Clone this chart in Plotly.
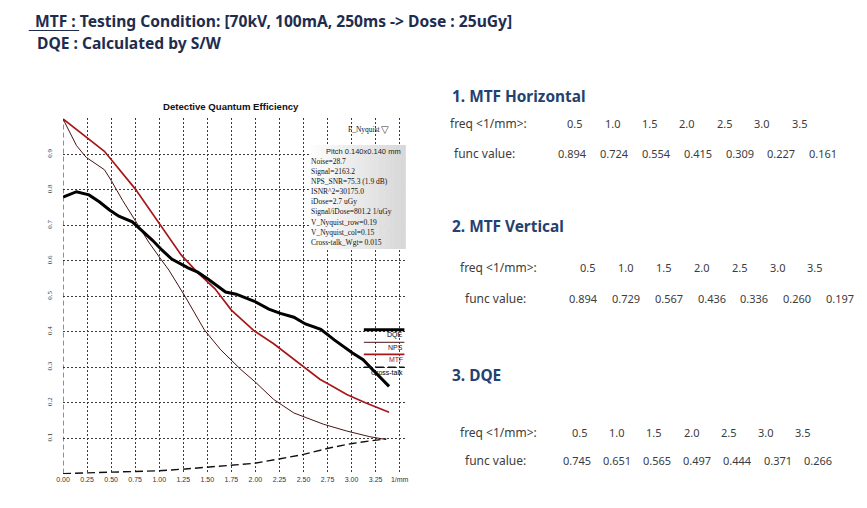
import plotly.graph_objects as go

W, H = 867, 508

# ---------------- data ----------------
dqe_freq = [0, 0.14, 0.27, 0.38, 0.48, 0.58, 0.72, 0.82, 0.93, 1.03, 1.13, 1.30, 1.40, 1.51,
            1.69, 1.80, 1.99, 2.14, 2.26, 2.40, 2.52, 2.68, 2.82, 3.01, 3.12, 3.22, 3.39]
dqe_val = [0.780, 0.795, 0.786, 0.766, 0.744, 0.726, 0.710, 0.686, 0.658, 0.630, 0.605, 0.580,
           0.568, 0.548, 0.512, 0.506, 0.486, 0.464, 0.452, 0.441, 0.422, 0.407, 0.377, 0.340,
           0.321, 0.293, 0.246]

nps_freq = [0, 0.14, 0.24, 0.43, 0.50, 0.62, 0.75, 0.89, 1.00, 1.10, 1.27, 1.47, 1.64, 1.85,
            2.00, 2.19, 2.40, 2.71, 2.95, 3.19, 3.36]
nps_val = [1.0, 0.925, 0.892, 0.857, 0.827, 0.770, 0.714, 0.653, 0.611, 0.574, 0.499, 0.405,
           0.349, 0.293, 0.258, 0.209, 0.171, 0.139, 0.120, 0.104, 0.096]

mtf_freq = [0, 0.43, 0.75, 1.00, 1.23, 1.40, 1.58, 1.75, 1.99, 2.19, 2.35, 2.50, 2.67, 2.81,
            2.95, 3.15, 3.39]
mtf_val = [1.0, 0.909, 0.803, 0.705, 0.616, 0.567, 0.521, 0.461, 0.402, 0.366, 0.333, 0.300,
           0.266, 0.245, 0.223, 0.199, 0.173]

xtalk_freq = [0, 0.50, 1.00, 1.27, 1.47, 1.68, 1.99, 2.26, 2.50, 2.78, 3.01, 3.19, 3.36]
xtalk_val = [0.0, 0.004, 0.008, 0.013, 0.017, 0.022, 0.029, 0.042, 0.054, 0.073, 0.085, 0.092, 0.098]

x_tick_vals = [0, 0.25, 0.5, 0.75, 1.0, 1.25, 1.5, 1.75, 2.0, 2.25, 2.5, 2.75, 3.0, 3.25, 3.5]
x_tick_text = ["0.00", "0.25", "0.50", "0.75", "1.00", "1.25", "1.50", "1.75", "2.00",
               "2.25", "2.50", "2.75", "3.00", "3.25", "1/mm"]
y_tick_vals = [0.1, 0.2, 0.3, 0.4, 0.5, 0.6, 0.7, 0.8, 0.9]
y_tick_text = ["0.1", "0.2", "0.3", "0.4", "0.5", "0.6", "0.7", "0.8", "0.9"]

legend_names = ["DQE", "NPS", "MTF", "Cross-talk"]

info_title = "Pitch 0.140x0.140 mm"
info_lines = ["Noise=28.7", "Signal=2163.2", "NPS_SNR=75.3 (1.9 dB)", "ISNR^2=30175.0",
              "iDose=2.7 uGy", "Signal/iDose=801.2 1/uGy", "V_Nyquist_row=0.19",
              "V_Nyquist_col=0.15", "Cross-talk_Wgt= 0.015"]

table_freq = ["0.5", "1.0", "1.5", "2.0", "2.5", "3.0", "3.5"]
mtf_h_values = ["0.894", "0.724", "0.554", "0.415", "0.309", "0.227", "0.161"]
mtf_v_values = ["0.894", "0.729", "0.567", "0.436", "0.336", "0.260", "0.197"]
dqe_values = ["0.745", "0.651", "0.565", "0.497", "0.444", "0.371", "0.266"]

# ---------------- colours ----------------
C_DQE = "#000000"
C_NPS = "#4a1414"
C_MTF = "#a8181a"
C_XT = "#111111"

# ---------------- layout geometry (pixels) ----------------
PL, PR, PT, PB = 56.7, 403.0, 118.3, 474.3
XPU = 97.3  # pixels per 1/mm


def fx(p):
    return p / W


def fy(p):
    return 1 - p / H


fig = go.Figure()

fig.add_trace(go.Scatter(x=xtalk_freq, y=xtalk_val, mode="lines", name=legend_names[3],
                         line=dict(color=C_XT, width=1.4, dash="8px,4px"), hoverinfo="skip"))
fig.add_trace(go.Scatter(x=nps_freq, y=nps_val, mode="lines", name=legend_names[1],
                         line=dict(color=C_NPS, width=1), hoverinfo="skip"))
fig.add_trace(go.Scatter(x=mtf_freq, y=mtf_val, mode="lines", name=legend_names[2],
                         line=dict(color=C_MTF, width=1.7), hoverinfo="skip"))
fig.add_trace(go.Scatter(x=dqe_freq, y=dqe_val, mode="lines", name=legend_names[0],
                         line=dict(color=C_DQE, width=3), hoverinfo="skip"))

shapes = []
annotations = []

# left axis: dashed
shapes.append(dict(type="line", xref="x", yref="y", x0=0, x1=0, y0=0, y1=1,
                   line=dict(color="#222", width=1, dash="5px,3px"), layer="above"))

# info box with horizontal gradient
bx0, bx1, by0, by1 = 307, 403, 145, 249
n = 18
for i in range(n):
    t = i / (n - 1)
    g = int(round(252 - t * 36))
    shapes.append(dict(type="rect", xref="paper", yref="paper",
                       x0=fx(bx0 + (bx1 - bx0) * i / n), x1=fx(bx0 + (bx1 - bx0) * (i + 1) / n + 0.5),
                       y0=fy(by1), y1=fy(by0), line=dict(width=0),
                       fillcolor=f"rgb({g},{g},{g})", layer="above"))


def ann(text, x, y, size, color="#000", xanchor="left", family="Liberation Sans",
        weight="normal", yanchor="middle"):
    annotations.append(dict(text=text, x=fx(x), y=fy(y), xref="paper", yref="paper",
                            xanchor=xanchor, yanchor=yanchor, showarrow=False,
                            font=dict(size=size, color=color, family=family, weight=weight),
                            borderpad=0, borderwidth=0))


# info box text
ann(info_title, 361, 151.5, 7.5, "#222", "center", "Liberation Sans")
for i, s in enumerate(info_lines):
    ann(s, 307.5, 161.5 + i * 10.1, 7.5, "#111", "left", "Liberation Serif")

ann("F_Nyquist", 378, 129.5, 7.5, "#111", "right", "Liberation Serif")
ann("\u25BD", 378, 129, 10, "#333", "left", "DejaVu Sans")

# legend keys (lines) and labels
leg_y = [329.7, 342.3, 354.3, 367.3]
leg_style = [dict(color=C_DQE, width=3), dict(color=C_NPS, width=1),
             dict(color=C_MTF, width=1.7), dict(color=C_XT, width=1.4, dash="8px,4px")]
leg_col = ["#000", "#3a1010", C_MTF, "#000"]
for name, yy, st, col in zip(legend_names, leg_y, leg_style, leg_col):
    shapes.append(dict(type="line", xref="paper", yref="paper", x0=fx(361), x1=fx(402),
                       y0=fy(yy), y1=fy(yy), line=st, layer="above"))
    ann(name, 401, yy + 5.6, 7, col, "right", "Liberation Sans")

# chart title
ann("Detective Quantum Efficiency", 227, 107, 9.6, "#111", "center", "Liberation Sans", "bold")

# header
HDR = "#1e2d4f"
ann("MTF : Testing Condition: [70kV, 100mA, 250ms -> Dose : 25uGy]", 28, 20.5, 15.6, HDR,
    "left", "Noto Sans", "bold")
ann("DQE : Calculated by S/W", 30, 43, 15.6, HDR, "left", "Noto Sans", "bold")
shapes.append(dict(type="line", xref="paper", yref="paper", x0=fx(22), x1=fx(73),
                   y0=fy(30.5), y1=fy(30.5), line=dict(color=HDR, width=1.2)))

# right side tables
SEC = "#24416f"
TXT = "#3c3c3c"
sections = [
    dict(title="1. MTF Horizontal", ty=96.7, fx0=448, fy0=123.3, vx0=452, vy0=153,
         fc0=575, fstep=37.8, vc0=572, vstep=42.3, vals=mtf_h_values),
    dict(title="2. MTF Vertical", ty=226.7, fx0=458, fy0=267, vx0=463, vy0=298,
         fc0=587.5, fstep=38.4, vc0=583, vstep=43.3, vals=mtf_v_values),
    dict(title="3. DQE", ty=375, fx0=458, fy0=432, vx0=463, vy0=460,
         fc0=580, fstep=37.5, vc0=577, vstep=40.5, vals=dqe_values),
]
for s in sections:
    ann(s["title"], 450, s["ty"], 15.4, SEC, "left", "Noto Sans", "bold")
    ann("freq &lt;1/mm&gt;:", s["fx0"], s["fy0"], 12, TXT, "left", "Noto Sans")
    ann("func value:", s["vx0"], s["vy0"], 12, TXT, "left", "Noto Sans")
    for i, f in enumerate(table_freq):
        ann(f, s["fc0"] + i * s["fstep"], s["fy0"], 11, TXT, "center", "Noto Sans")
    for i, v in enumerate(s["vals"]):
        ann(v, s["vc0"] + i * s["vstep"], s["vy0"], 11, TXT, "center", "Noto Sans")

grid_col = "#3a3a3a"
fig.update_layout(
    width=W, height=H, autosize=False,
    margin=dict(l=0, r=0, t=0, b=0),
    paper_bgcolor="white", plot_bgcolor="white",
    showlegend=False,
    shapes=shapes, annotations=annotations,
    xaxis=dict(domain=[fx(PL), fx(PR)], range=[0, (PR - PL) / XPU],
               tickvals=x_tick_vals, ticktext=x_tick_text,
               tickfont=dict(size=7, color="#333", family="Liberation Sans Narrow, Liberation Sans"),
               showgrid=True, gridcolor=grid_col, gridwidth=1, griddash="2px,2px",
               zeroline=False, showline=False, ticks="", fixedrange=True),
    yaxis=dict(domain=[fy(PB), fy(PT)], range=[-0.002, 1.002],
               tickvals=y_tick_vals + [0.0, 1.0], ticktext=y_tick_text + ["", ""],
               tickangle=-90, ticklabelstandoff=9,
               tickfont=dict(size=7, color="#333", family="Liberation Serif"),
               showgrid=True, gridcolor=grid_col, gridwidth=1, griddash="2px,2px",
               zeroline=False, showline=False, ticks="", fixedrange=True),
)

fig.write_html("out.html", config={"displayModeBar": False},
               post_script="document.body.style.margin='0';document.body.style.padding='0';")
